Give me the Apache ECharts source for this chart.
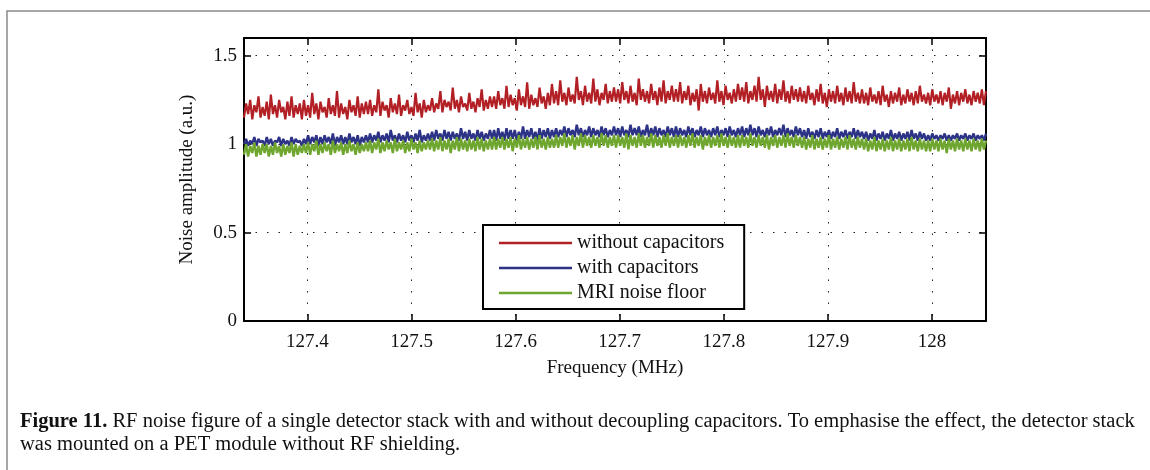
<!DOCTYPE html>
<html>
<head>
<meta charset="utf-8">
<script src="https://cdn.jsdelivr.net/npm/echarts@6/dist/echarts.min.js"></script>
<style>
html,body{margin:0;padding:0;background:#fff;}
#chart{width:1150px;height:470px;}
</style>
</head>
<body>
<div id="chart"></div>
<script>
// Frequency sampling (MHz)
const freqStart = 127.339;
const freqEnd = 128.052;
const xTicks = [127.4, 127.5, 127.6, 127.7, 127.8, 127.9, 128];
const yTicks = [0, 0.5, 1, 1.5];
const seriesNames = ['without capacitors', 'with capacitors', 'MRI noise floor'];
const seriesColors = ['#b22025', '#2c3286', '#6fa62f'];

const withoutCaps = [
1.15,1.23,1.17,1.25,1.14,1.22,1.18,1.27,1.15,1.21,1.16,1.24,1.14,1.28,1.17,1.22,1.15,1.25,1.18,1.21,1.14,1.24,1.16,1.27,1.15,1.22,1.17,1.23,1.14,1.25,
1.16,1.22,1.15,1.29,1.17,1.23,1.14,1.24,1.18,1.21,1.15,1.26,1.17,1.22,1.16,1.30,1.15,1.23,1.17,1.21,1.14,1.25,1.18,1.22,1.16,1.27,1.15,1.23,1.17,1.24,
1.17,1.25,1.16,1.22,1.18,1.31,1.16,1.24,1.19,1.22,1.15,1.26,1.18,1.23,1.17,1.28,1.16,1.22,1.19,1.25,1.17,1.21,1.16,1.29,1.18,1.23,1.15,1.25,1.18,1.22,
1.19,1.26,1.18,1.23,1.20,1.30,1.18,1.25,1.21,1.24,1.19,1.32,1.20,1.25,1.18,1.27,1.21,1.23,1.19,1.29,1.20,1.24,1.18,1.26,1.21,1.31,1.19,1.25,1.20,1.27,
1.21,1.27,1.20,1.30,1.22,1.26,1.20,1.33,1.21,1.28,1.22,1.26,1.19,1.31,1.22,1.27,1.21,1.35,1.20,1.28,1.22,1.26,1.21,1.32,1.23,1.27,1.20,1.29,1.22,1.34,
1.23,1.30,1.22,1.36,1.24,1.29,1.22,1.32,1.24,1.28,1.23,1.38,1.25,1.30,1.22,1.33,1.24,1.29,1.23,1.37,1.24,1.31,1.22,1.29,1.25,1.34,1.23,1.30,1.24,1.32,
1.24,1.31,1.23,1.35,1.25,1.30,1.23,1.33,1.24,1.29,1.22,1.37,1.25,1.31,1.24,1.30,1.23,1.34,1.25,1.30,1.22,1.32,1.24,1.36,1.23,1.30,1.25,1.33,1.24,1.31,
1.24,1.35,1.23,1.30,1.25,1.33,1.22,1.29,1.24,1.31,1.19,1.34,1.24,1.30,1.23,1.32,1.25,1.29,1.23,1.36,1.24,1.30,1.22,1.33,1.25,1.29,1.23,1.31,1.24,1.34,
1.25,1.32,1.24,1.35,1.23,1.30,1.25,1.33,1.24,1.38,1.25,1.31,1.21,1.33,1.25,1.30,1.24,1.34,1.23,1.31,1.25,1.36,1.24,1.30,1.23,1.33,1.25,1.31,1.24,1.32,
1.24,1.30,1.23,1.33,1.25,1.29,1.22,1.31,1.24,1.34,1.23,1.29,1.21,1.31,1.24,1.30,1.23,1.33,1.24,1.29,1.22,1.32,1.24,1.30,1.23,1.35,1.24,1.29,1.23,1.31,
1.23,1.29,1.22,1.32,1.24,1.28,1.23,1.30,1.22,1.33,1.24,1.28,1.21,1.30,1.23,1.29,1.24,1.32,1.22,1.28,1.23,1.31,1.24,1.29,1.22,1.30,1.23,1.33,1.24,1.28,
1.23,1.29,1.22,1.31,1.24,1.28,1.23,1.30,1.22,1.29,1.24,1.32,1.20,1.28,1.23,1.30,1.22,1.29,1.24,1.31,1.23,1.28,1.22,1.30,1.24,1.29,1.23,1.31,1.22,1.30
];

const withCaps = [
1.00,1.03,0.99,1.02,1.00,1.04,0.99,1.03,1.01,1.02,0.99,1.04,1.00,1.03,0.99,1.02,1.01,1.04,0.99,1.03,1.00,1.02,0.99,1.04,1.00,1.03,1.01,1.02,0.99,1.03,
1.00,1.05,1.00,1.04,1.01,1.05,0.99,1.04,1.00,1.05,1.01,1.04,1.00,1.06,0.99,1.04,1.01,1.05,1.00,1.04,1.00,1.06,1.01,1.04,1.00,1.05,0.99,1.04,1.01,1.05,
1.01,1.06,1.01,1.05,1.02,1.07,1.01,1.05,1.02,1.06,1.01,1.08,1.02,1.05,1.01,1.06,1.02,1.05,1.01,1.07,1.02,1.05,1.01,1.06,1.02,1.08,1.01,1.05,1.02,1.06,
1.02,1.07,1.02,1.08,1.03,1.06,1.02,1.08,1.03,1.07,1.02,1.07,1.03,1.06,1.02,1.09,1.03,1.07,1.02,1.08,1.03,1.06,1.02,1.08,1.03,1.07,1.02,1.06,1.03,1.08,
1.03,1.08,1.02,1.09,1.03,1.07,1.02,1.09,1.03,1.08,1.03,1.08,1.02,1.07,1.03,1.10,1.03,1.08,1.04,1.09,1.03,1.07,1.02,1.09,1.03,1.08,1.04,1.09,1.03,1.08,
1.04,1.09,1.04,1.08,1.05,1.10,1.04,1.09,1.05,1.08,1.04,1.11,1.05,1.09,1.04,1.08,1.05,1.10,1.04,1.09,1.05,1.08,1.04,1.10,1.05,1.09,1.04,1.08,1.05,1.10,
1.05,1.09,1.04,1.10,1.05,1.08,1.04,1.11,1.05,1.09,1.05,1.10,1.04,1.08,1.05,1.11,1.04,1.09,1.05,1.10,1.04,1.09,1.05,1.08,1.04,1.10,1.05,1.09,1.04,1.10,
1.04,1.09,1.05,1.08,1.04,1.10,1.05,1.09,1.04,1.08,1.05,1.10,1.04,1.09,1.05,1.08,1.04,1.09,1.05,1.10,1.04,1.08,1.05,1.09,1.04,1.10,1.05,1.08,1.04,1.09,
1.05,1.10,1.04,1.09,1.05,1.11,1.05,1.09,1.04,1.10,1.05,1.08,1.04,1.09,1.05,1.10,1.04,1.08,1.05,1.09,1.05,1.11,1.04,1.09,1.05,1.08,1.04,1.10,1.05,1.09,
1.04,1.08,1.03,1.09,1.04,1.07,1.03,1.08,1.04,1.09,1.03,1.07,1.04,1.08,1.03,1.07,1.04,1.09,1.03,1.07,1.04,1.08,1.03,1.07,1.04,1.09,1.03,1.08,1.04,1.07,
1.03,1.07,1.02,1.06,1.03,1.08,1.02,1.06,1.03,1.07,1.02,1.06,1.03,1.08,1.02,1.06,1.03,1.07,1.02,1.06,1.03,1.07,1.02,1.08,1.03,1.06,1.02,1.07,1.03,1.06,
1.02,1.05,1.02,1.06,1.03,1.05,1.02,1.05,1.03,1.06,1.02,1.05,1.02,1.05,1.03,1.06,1.02,1.05,1.03,1.06,1.02,1.05,1.03,1.06,1.02,1.05,1.03,1.05,1.02,1.06
];

const noiseFloor = [
0.94,1.00,0.93,0.99,0.95,1.01,0.93,0.99,0.94,1.00,0.95,1.00,0.93,0.99,0.94,1.01,0.95,0.99,0.93,1.00,0.94,0.99,0.95,1.01,0.93,1.00,0.94,0.99,0.95,1.00,
0.95,1.01,0.94,1.00,0.96,1.02,0.94,1.00,0.95,1.01,0.96,1.00,0.94,1.02,0.95,1.00,0.96,1.01,0.94,1.00,0.95,1.02,0.96,1.00,0.94,1.01,0.95,1.00,0.96,1.01,
0.96,1.02,0.95,1.01,0.97,1.03,0.95,1.01,0.96,1.02,0.97,1.01,0.95,1.03,0.96,1.01,0.97,1.02,0.95,1.01,0.96,1.03,0.97,1.01,0.95,1.02,0.96,1.01,0.97,1.02,
0.97,1.03,0.96,1.02,0.97,1.04,0.96,1.02,0.97,1.03,0.95,1.02,0.97,1.04,0.96,1.03,0.97,1.02,0.96,1.03,0.97,1.02,0.96,1.04,0.97,1.03,0.96,1.02,0.97,1.03,
0.97,1.04,0.97,1.03,0.98,1.04,0.97,1.03,0.98,1.04,0.96,1.03,0.98,1.05,0.97,1.03,0.98,1.04,0.97,1.03,0.98,1.04,0.97,1.05,0.98,1.03,0.97,1.04,0.98,1.03,
0.98,1.05,0.98,1.04,0.99,1.06,0.98,1.04,0.99,1.05,0.97,1.04,0.99,1.06,0.98,1.05,0.99,1.04,0.98,1.05,0.99,1.04,0.98,1.06,0.99,1.05,0.98,1.04,0.99,1.05,
0.98,1.05,0.99,1.04,0.98,1.06,0.97,1.05,0.99,1.04,0.98,1.06,0.99,1.05,0.98,1.04,0.99,1.06,0.98,1.05,0.99,1.04,0.98,1.05,0.99,1.06,0.98,1.04,0.99,1.05,
0.98,1.05,0.99,1.04,0.98,1.05,0.99,1.06,0.98,1.04,0.99,1.05,0.97,1.04,0.99,1.05,0.98,1.04,0.99,1.05,0.98,1.06,0.99,1.04,0.98,1.05,0.99,1.04,0.98,1.05,
0.98,1.05,0.99,1.04,0.98,1.06,0.99,1.04,0.98,1.05,0.99,1.04,0.98,1.05,0.97,1.04,0.99,1.05,0.98,1.04,0.99,1.05,0.98,1.06,0.99,1.04,0.98,1.05,0.99,1.04,
0.98,1.04,0.97,1.03,0.98,1.05,0.97,1.03,0.98,1.04,0.97,1.03,0.98,1.05,0.97,1.03,0.98,1.04,0.97,1.03,0.98,1.04,0.97,1.05,0.98,1.03,0.97,1.04,0.98,1.03,
0.97,1.03,0.96,1.02,0.97,1.04,0.96,1.02,0.97,1.03,0.96,1.02,0.97,1.04,0.96,1.02,0.97,1.03,0.96,1.02,0.97,1.03,0.96,1.04,0.97,1.02,0.96,1.03,0.97,1.02,
0.96,1.02,0.96,1.03,0.97,1.02,0.96,1.03,0.97,1.02,0.95,1.03,0.97,1.02,0.96,1.03,0.97,1.02,0.96,1.03,0.97,1.02,0.96,1.03,0.97,1.02,0.96,1.03,0.97,1.02
];

function withFreq(vals) {
  const step = (freqEnd - freqStart) / (vals.length - 1);
  return vals.map((v, i) => [freqStart + i * step, v]);
}

const FONT = '"Liberation Serif", "Times New Roman", serif';
const chart = echarts.init(document.getElementById('chart'), null, {renderer: 'canvas'});

const gridLine = {show: true, lineStyle: {color: '#222', width: 1, type: [1.5, 10]}};
const axisLn = {show: true, onZero: false, lineStyle: {color: '#000', width: 2}};
const tickIn = {show: true, inside: true, length: 7, lineStyle: {color: '#000', width: 1.5}};
const lineWidths = [2.2, 2.4, 2.4];

const option = {
  animation: false,
  backgroundColor: '#fff',
  grid: {left: 244, right: 164, top: 38, bottom: 149, containLabel: false},
  legend: {
    orient: 'vertical',
    left: 483, top: 225,
    data: seriesNames.map((n, i) => ({name: n, icon: 'rect', itemStyle: {color: seriesColors[i]}})),
    itemWidth: 73, itemHeight: 2.5, itemGap: 5, itemTextGap: 8,
    padding: [8, 20, 6, 16],
    borderColor: '#000', borderWidth: 2,
    backgroundColor: '#fff',
    textStyle: {fontFamily: FONT, fontSize: 20, color: '#111', lineHeight: 20}
  },
  xAxis: [{
    type: 'value', position: 'bottom',
    min: freqStart, max: freqEnd,
    name: 'Frequency (MHz)', nameLocation: 'middle', nameGap: 38,
    nameTextStyle: {fontFamily: FONT, fontSize: 19, color: '#111'},
    axisLine: axisLn,
    axisTick: Object.assign({customValues: xTicks}, tickIn),
    axisLabel: {customValues: xTicks, margin: 12, fontFamily: FONT, fontSize: 19, color: '#111',
      formatter: v => String(Math.round(v * 10) / 10)},
    splitLine: gridLine
  }, {
    type: 'value', position: 'top',
    min: freqStart, max: freqEnd,
    axisLine: axisLn,
    axisTick: Object.assign({customValues: xTicks}, tickIn),
    axisLabel: {show: false},
    splitLine: {show: false}
  }],
  yAxis: [{
    type: 'value', position: 'left',
    min: 0, max: 1.6,
    name: 'Noise amplitude (a.u.)', nameLocation: 'middle', nameGap: 47,
    nameTextStyle: {fontFamily: FONT, fontSize: 19, color: '#111'},
    axisLine: axisLn,
    axisTick: Object.assign({customValues: yTicks}, tickIn),
    axisLabel: {customValues: yTicks, margin: 7, fontFamily: FONT, fontSize: 19, color: '#111'},
    splitLine: gridLine
  }, {
    type: 'value', position: 'right',
    min: 0, max: 1.6,
    axisLine: axisLn,
    axisTick: Object.assign({customValues: yTicks}, tickIn),
    axisLabel: {show: false},
    splitLine: {show: false}
  }],
  series: seriesNames.map((n, i) => ({
    name: n, type: 'line',
    data: withFreq([withoutCaps, withCaps, noiseFloor][i]),
    showSymbol: false, symbol: 'none',
    lineStyle: {color: seriesColors[i], width: lineWidths[i], join: 'bevel'},
    itemStyle: {color: seriesColors[i]}
  })),
  graphic: [
    {type: 'rect', shape: {x: 7, y: 11, width: 1300, height: 600},
     style: {fill: 'none', stroke: '#8a8a8a', lineWidth: 1.5}, silent: true},
    {type: 'text', left: 20, top: 410,
     style: {
       text: '{b|Figure 11.} RF noise figure of a single detector stack with and without decoupling capacitors. To emphasise the effect, the detector stack\nwas mounted on a PET module without RF shielding.',
       font: '20.5px ' + FONT, fill: '#111', lineHeight: 23,
       rich: {b: {fontWeight: 'bold', fontFamily: FONT, fontSize: 20.5, fill: '#111', lineHeight: 23}}
     }}
  ]
};
chart.setOption(option);
</script>
</body>
</html>
